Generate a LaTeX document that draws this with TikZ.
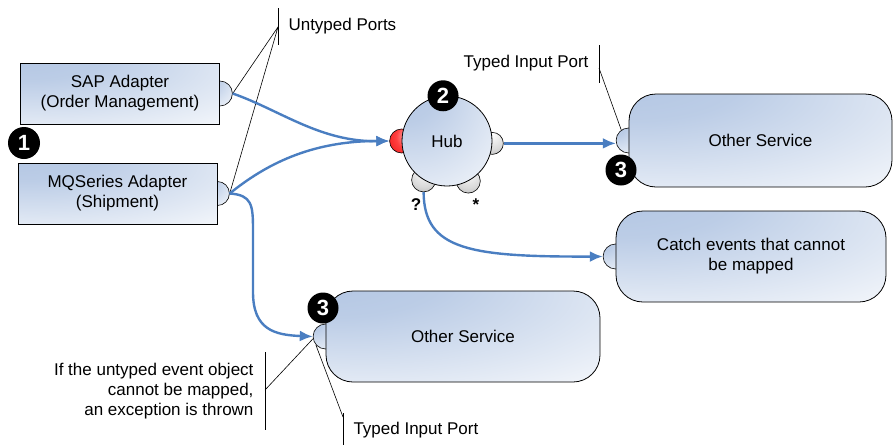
\documentclass[tikz,border=0pt]{standalone}
\usepackage{fontspec}
\setmainfont{Liberation Sans}
\usetikzlibrary{arrows.meta,shapes,positioning}
\pgfdeclarelayer{back}
\pgfsetlayers{back,main}
\definecolor{flowblue}{RGB}{74,126,193}
\definecolor{boxblue}{RGB}{176,196,226}
\pgfdeclareradialshading{boxshade}{\pgfpoint{-30bp}{38bp}}{color(0bp)=(boxblue); color(20bp)=(boxblue!85); color(65bp)=(white); color(100bp)=(white)}
\pgfdeclareradialshading{greyshade}{\pgfpoint{0bp}{22bp}}{color(0bp)=(white); color(30bp)=(black!15); color(65bp)=(black!45); color(100bp)=(black!45)}
\pgfdeclareradialshading{redshade}{\pgfpoint{18bp}{12bp}}{color(0bp)=(red!15); color(25bp)=(red!75); color(60bp)=(red!90!black); color(100bp)=(red!90!black)}

\begin{document}
\begin{tikzpicture}[x=1pt,y=-1pt,
    every node/.style={font=\fontsize{17}{20}\selectfont},
    adapter/.style={draw,rectangle,line width=0.8pt,shade,shading=boxshade,align=center,minimum width=199pt,minimum height=61pt},
    service/.style={adapter,rounded corners=27pt},
    hubnode/.style={draw,circle,line width=0.8pt,shade,shading=boxshade,minimum size=90pt},
    port/.style={draw,circle,line width=0.6pt,inner sep=0pt,minimum size=25pt,shade,shading=boxshade},
    greyport/.style={port,shading=greyshade},
    redport/.style={port,shading=redshade},
    badge/.style={circle,fill=black,text=white,inner sep=0pt,minimum size=31pt,font=\fontsize{22}{22}\selectfont\bfseries},
    flow/.style={draw=flowblue,line width=2.4pt,-{Latex[length=13pt,width=11pt]}},
    callout/.style={draw,line width=0.6pt}]
    \path[use as bounding box] (0,0) rectangle (894,445);

    \node[adapter] (sap) at (120,93.5) {SAP Adapter\\(Order Management)};
    \node[adapter] (mq) at (117.5,193.5) {MQSeries Adapter\\(Shipment)};
    \node[hubnode] (hub) at (447,141) {Hub};
    \node[service,minimum width=263pt,minimum height=93pt] (svc1) at (760.5,140.5) {Other Service};
    \node[service,minimum width=270pt,minimum height=91pt] (catch) at (751,256.5) {Catch events that cannot\\be mapped};
    \node[service,minimum width=274pt,minimum height=91pt] (svc2) at (463,336.5) {Other Service};

    \begin{pgfonlayer}{back}
        \node[port] (sapport) at (sap.east) {};
        \node[port,minimum size=24pt] (mqport) at (mq.east) {};
        \node[redport,minimum size=24pt] (hubin) at (hub.west) {};
        \node[greyport,minimum size=22pt] (hubout) at (hub.-3) {};
        \node[greyport,minimum size=24pt] (hubq) at (hub.-121) {};
        \node[greyport,minimum size=24pt] (hubstar) at (hub.-62) {};
        \node[port] (svc1port) at (svc1.west) {};
        \node[port] (catchport) at (catch.west) {};
        \node[port] (svc2port) at (svc2.west) {};
    \end{pgfonlayer}

    \node[badge,minimum size=32pt] (b1) at (24,143) {1};
    \node[badge] (b2) at (hub.95) {2};
    \node[badge] (b3a) at (621,170) {3};
    \node[badge] (b3b) at (323,308) {3};

    \node[font=\fontsize{17}{17}\selectfont\bfseries] (qmark) at (416,205) {?};
    \node[font=\fontsize{17}{17}\selectfont\bfseries] (star) at (476,205) {*};

    \node[anchor=west] (untyped) at (285,26) {Untyped Ports};
    \coordinate (untypedtick) at (278,27);
    \draw[callout] (278,8) -- (278,45);
    \draw[callout] (sapport.east) -- (untypedtick) -- (mqport.east);

    \node[anchor=east] (typedtop) at (592,63) {Typed Input Port};
    \coordinate (typedtoptick) at (599,68);
    \draw[callout] (599,45) -- (599,83);
    \draw[callout] (typedtoptick) -- (svc1port.125);

    \node[anchor=east,align=right] (mapnote) at (257,391) {If the untyped event object\\cannot be mapped,\\an exception is thrown};
    \coordinate (mapnotetick) at (265,390);
    \draw[callout] (265,352) -- (265,430);
    \draw[callout] (mapnotetick) -- (svc2port.190);

    \node[anchor=west] (typedbot) at (350,430) {Typed Input Port};
    \coordinate (typedbottick) at (343,417);
    \draw[callout] (343,413) -- (343,445);
    \draw[callout] (typedbottick) -- (svc2port.220);

    \draw[flow] (sapport.east) .. controls (280,110) and (320,142) .. (hubin.west);
    \draw[flow] (mqport.east) .. controls (265,165) and (310,141) .. (hubin.west);
    \draw[flow] (hubout.east) -- (hubout.east -| svc1port.west);
    \draw[flow] (hubq.south) .. controls (424,250) and (470,257) .. (catchport.west);
    \draw[flow] (mqport.east) .. controls (252,195) and (253,205) .. (253,230) -- (253,292) .. controls (253,330) and (275,335) .. (svc2port.west);
\end{tikzpicture}
\end{document}
